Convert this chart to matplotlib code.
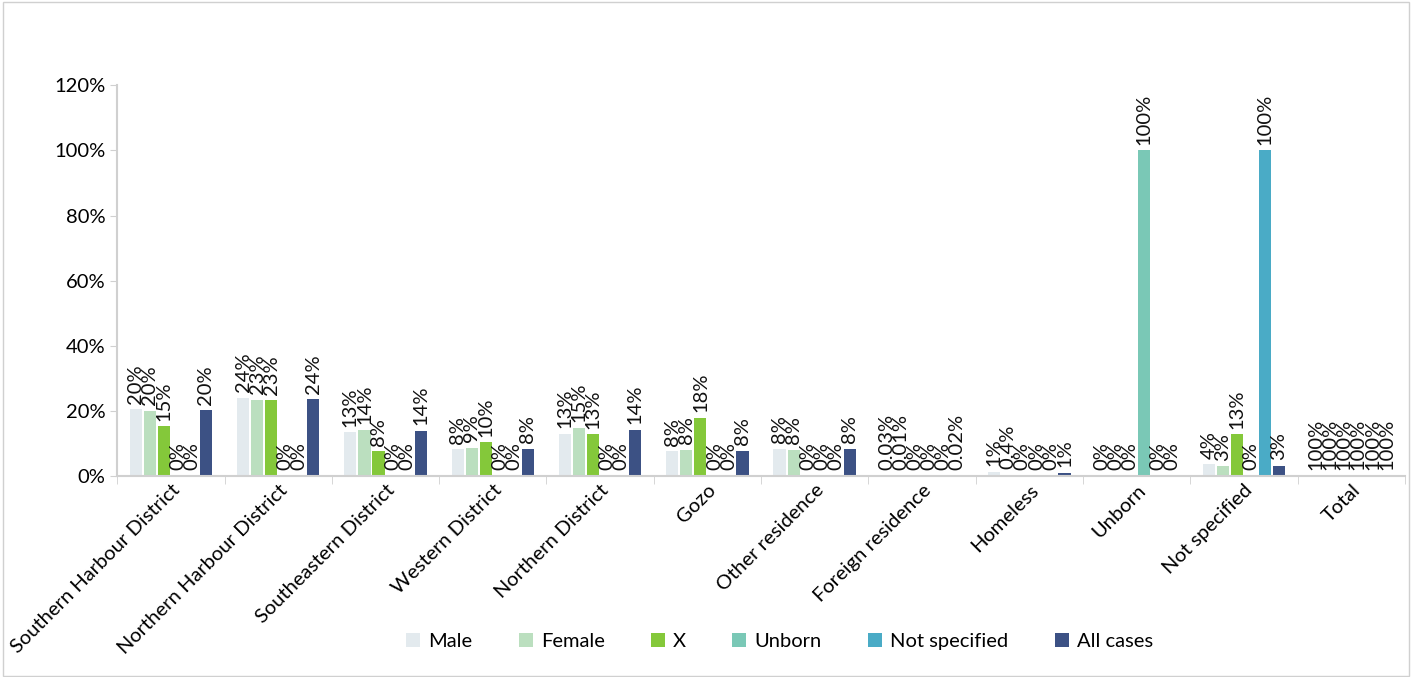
import matplotlib.pyplot as plt
import numpy as np
from matplotlib.patches import Rectangle

plt.rcParams["font.family"] = ["Lato", "DejaVu Sans"]

categories = [
    "Southern Harbour District", "Northern Harbour District", "Southeastern District",
    "Western District", "Northern District", "Gozo", "Other residence",
    "Foreign residence", "Homeless", "Unborn", "Not specified", "Total",
]
series_names = ["Male", "Female", "X", "Unborn", "Not specified", "All cases"]
colors = ["#e3eaee", "#bbdfbf", "#84c83a", "#7ac8b6", "#4aabc6", "#3c5184"]

# values in percent, one list per series
male = [20.5, 24.0, 13.4, 8.2, 13.0, 7.6, 8.4, 0.03, 1.3, 0, 3.6, 100]
female = [20.0, 23.4, 14.2, 8.6, 14.8, 8.0, 8.0, 0.01, 0.4, 0, 2.9, 100]
x_sex = [15.2, 23.2, 7.6, 10.3, 12.8, 17.9, 0, 0, 0, 0, 12.8, 100]
unborn = [0, 0, 0, 0, 0, 0, 0, 0, 0, 100, 0, 100]
not_specified = [0, 0, 0, 0, 0, 0, 0, 0, 0, 0, 100, 100]
all_cases = [20.2, 23.6, 13.8, 8.3, 14.1, 7.7, 8.3, 0.02, 1.0, 0, 3.2, 100]
series = [male, female, x_sex, unborn, not_specified, all_cases]

# the Total group shows only its labels in the source chart
hidden_groups = ["Total"]


def fmt(v):
    if v == 0:
        return "0%"
    if v < 1:
        return f"{v:g}%"
    return f"{v:.0f}%"


fig = plt.figure(figsize=(14.12, 6.77), dpi=100)
ax = fig.add_axes([0.083, 0.297, 0.912, 0.577])
fig.patches.append(Rectangle((0.002, 0.002), 0.996, 0.995, transform=fig.transFigure,
                             fill=False, edgecolor="#d0d0d0", linewidth=1))

x = np.arange(len(categories))
width = 0.114
step = 0.131
for s, (name, vals, c) in enumerate(zip(series_names, series, colors)):
    offs = (s - 2.5) * step
    heights = [0 if cat in hidden_groups else v for cat, v in zip(categories, vals)]
    ax.bar(x + offs, heights, width, color=c, label=name)
    for xi, h, v in zip(x, heights, vals):
        ax.annotate(fmt(v), (xi + offs, h), xytext=(0, 4), textcoords="offset points",
                    rotation=90, ha="center", va="bottom", fontsize=14.5, color="#111111")

ax.set_ylim(0, 120)
ax.set_xlim(-0.5, len(categories) - 0.5)
ax.set_yticks(np.arange(0, 121, 20))
ax.set_yticklabels([f"{t}%" for t in range(0, 121, 20)], fontsize=14.5)
ax.set_xticks(x)
ax.set_xticklabels(categories, rotation=45, ha="right", rotation_mode="anchor", fontsize=14.5)
ax.tick_params(axis="x", which="major", length=0, pad=4)
ax.set_xticks(np.arange(-0.5, len(categories), 1), minor=True)
ax.tick_params(axis="x", which="minor", length=6, color="#d0d0d0")
ax.tick_params(axis="y", length=5, color="#d0d0d0")

for side in ["top", "right"]:
    ax.spines[side].set_visible(False)
for side in ["left", "bottom"]:
    ax.spines[side].set_color("#d0d0d0")
    ax.spines[side].set_linewidth(1.5)

ax.legend(loc="center", bbox_to_anchor=(0.552, 0.053), bbox_transform=fig.transFigure,
          ncol=6, frameon=False, fontsize=14.5, handlelength=0.7, handleheight=0.7,
          handletextpad=0.4, columnspacing=2.3)

fig.savefig("out.png", dpi=100)
